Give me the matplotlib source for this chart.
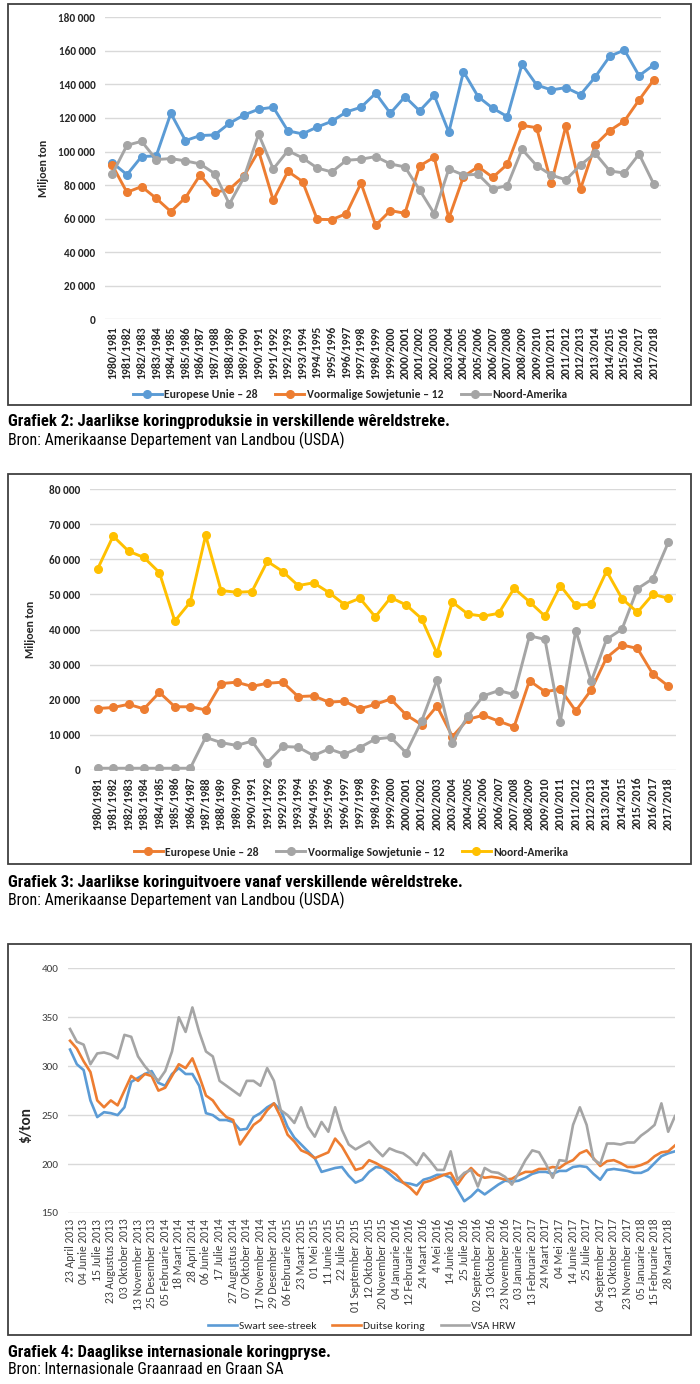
import numpy as np
import matplotlib
matplotlib.use('Agg')
import matplotlib.pyplot as plt
from matplotlib.patches import Rectangle
from matplotlib import font_manager

# original uses Calibri for the charts and a condensed face for captions
names = {f.name for f in font_manager.fontManager.ttflist}


def pick(*cands):
    for c in cands:
        if c in names:
            return c
    return 'DejaVu Sans'


body = pick('Carlito', 'Liberation Sans Narrow', 'Lato')
cond = pick('Roboto Condensed', 'Liberation Sans Narrow', 'Open Sans Condensed', 'Lato')
plt.rcParams['font.family'] = [body, 'DejaVu Sans']

# ---- data: Grafiek 2 (produksie) ----
seasons = [f"{y}/{y + 1}" for y in range(1980, 2018)]
eu_prod = [93400, 86200, 97000, 97400, 122800, 106500, 109500, 109900, 116800, 121800,
           125200, 126400, 112300, 110500, 114600, 118000, 123600, 126400, 134700, 122800,
           132700, 124200, 133500, 111500, 147600, 132700, 125800, 120800, 152000, 139700,
           136700, 138100, 133900, 144400, 156800, 160500, 145200, 151600]
fsu_prod = [91800, 75700, 79100, 72100, 64200, 72500, 86000, 75700, 77500, 85400,
            100300, 70900, 88200, 82100, 59600, 59400, 63000, 81100, 56000, 64800,
            63200, 91400, 96600, 60200, 85000, 91000, 84600, 92400, 115600, 114200,
            81100, 115200, 77700, 103900, 112500, 118200, 130700, 142700]
na_prod = [86600, 103700, 106100, 95200, 95800, 94400, 92600, 86800, 68700, 84600,
           110300, 89600, 100500, 96200, 90200, 87800, 94800, 95400, 97000, 92600,
           90800, 77100, 63000, 89600, 86000, 86400, 77700, 79700, 101300, 91600,
           86000, 83100, 92000, 98900, 88400, 87200, 98500, 80700]

# ---- data: Grafiek 3 (uitvoere) ----
eu_exp = [17500, 17800, 18700, 17400, 22100, 18000, 18000, 17100, 24600, 25000,
          23800, 24700, 25000, 20900, 21100, 19300, 19600, 17400, 18700, 20200,
          15700, 12900, 18200, 9500, 14400, 15600, 13900, 12300, 25400, 22300,
          23000, 16800, 22800, 32000, 35600, 34600, 27300, 23900]
fsu_exp = [500, 500, 500, 500, 500, 500, 500, 9300, 7800, 7000,
           8200, 2100, 6700, 6500, 4100, 6000, 4500, 6400, 8800, 9300,
           4900, 13900, 25600, 7800, 15400, 21100, 22600, 21500, 38200, 37200,
           13800, 39700, 25200, 37200, 40100, 51600, 54500, 64800]
na_exp = [57300, 66600, 62300, 60500, 56200, 42400, 47800, 66800, 51100, 50600,
          50800, 59400, 56500, 52500, 53300, 50500, 47100, 48900, 43600, 49100,
          47000, 43100, 33200, 47800, 44400, 43800, 44600, 51700, 47900, 43800,
          52500, 46900, 47200, 56600, 48800, 44900, 50000, 48900]

# ---- data: Grafiek 4 (pryse, $/ton), two readings per label step ----
dates = ["23 April 2013", "04 Junie 2013", "15 Julie 2013", "23 Augustus 2013", "03 Oktober 2013",
         "13 November 2013", "25 Desember 2013", "05 Februarie 2014", "18 Maart 2014", "28 April 2014",
         "06 Junie 2014", "17 Julie 2014", "27 Augustus 2014", "07 Oktober 2014", "17 November 2014",
         "29 Desember 2014", "06 Februarie 2015", "23 Maart 2015", "01 Mei 2015", "11 Junie 2015",
         "22 Julie 2015", "01 September 2015", "12 Oktober 2015", "20 November 2015", "04 Januarie 2016",
         "12 Februarie 2016", "24 Maart 2016", "4 Mei 2016", "14 Junie 2016", "25 Julie 2016",
         "02 September 2016", "13 Oktober 2016", "23 November 2016", "03 Januarie 2017", "13 Februarie 2017",
         "24 Maart 2017", "04 Mei 2017", "14 Junie 2017", "25 Julie 2017", "04 September 2017",
         "13 Oktober 2017", "23 November 2017", "05 Januarie 2018", "15 Februarie 2018", "28 Maart 2018"]
black_sea = [317, 302, 296, 265, 248, 253, 252, 250, 258, 284,
             288, 292, 295, 283, 280, 292, 298, 292, 292, 280,
             252, 250, 245, 245, 243, 235, 236, 248, 252, 258,
             262, 255, 238, 227, 220, 213, 206, 192, 194, 196,
             197, 188, 181, 184, 192, 197, 196, 190, 184, 181,
             180, 178, 184, 186, 189, 189, 186, 174, 162, 167,
             174, 169, 174, 179, 183, 182, 183, 186, 190, 192,
             192, 190, 193, 193, 197, 198, 197, 190, 184, 194,
             195, 194, 193, 191, 191, 194, 201, 208, 211, 213]
german = [326, 318, 305, 294, 265, 258, 265, 260, 275, 290,
          285, 292, 290, 275, 278, 290, 302, 298, 308, 290,
          270, 265, 255, 248, 245, 220, 230, 240, 245, 255,
          262, 248, 230, 223, 214, 211, 206, 209, 212, 226,
          218, 206, 194, 196, 204, 201, 197, 194, 189, 181,
          176, 169, 181, 183, 186, 189, 191, 179, 189, 196,
          189, 186, 187, 186, 184, 185, 189, 192, 192, 195,
          195, 197, 196, 201, 204, 211, 214, 206, 198, 203,
          204, 201, 197, 197, 199, 202, 208, 212, 213, 219]
usa_hrw = [338, 325, 322, 302, 313, 314, 312, 308, 332, 330,
           310, 300, 292, 285, 295, 315, 350, 335, 360, 335,
           315, 310, 285, 280, 275, 270, 285, 285, 280, 298,
           285, 255, 250, 242, 258, 238, 228, 243, 233, 258,
           235, 220, 215, 219, 223, 215, 208, 216, 213, 211,
           206, 199, 211, 203, 194, 194, 213, 184, 191, 194,
           177, 196, 192, 191, 187, 179, 191, 204, 214, 212,
           200, 186, 204, 203, 240, 258, 240, 205, 200, 221,
           221, 220, 222, 222, 229, 234, 240, 262, 233, 249]

BLUE, ORANGE, GREY, YELLOW = '#5B9BD5', '#ED7D31', '#A5A5A5', '#FFC000'

W, H = 700, 1384
fig = plt.figure(figsize=(7, 13.84), dpi=100)


def axes_px(x0, y0, x1, y1):
    return fig.add_axes([x0 / W, 1 - y1 / H, (x1 - x0) / W, (y1 - y0) / H])


def box_px(x0, y0, x1, y1):
    fig.add_artist(Rectangle((x0 / W, 1 - y1 / H), (x1 - x0) / W, (y1 - y0) / H,
                             transform=fig.transFigure, fill=False, edgecolor='#404040', lw=1.3))


def base_style(ax):
    for s in ax.spines.values():
        s.set_visible(False)
    ax.yaxis.grid(True, color='#D9D9D9', lw=1.0)
    ax.set_axisbelow(True)
    ax.tick_params(length=0)


def space_fmt(v, pos=None):
    return f"{int(v):,}".replace(',', ' ')


def caption(y_title, y_src, title, src):
    fig.text(8 / W, 1 - y_title / H, title, fontsize=12, fontweight='bold', va='center', ha='left',
             family=[cond, 'DejaVu Sans'])
    fig.text(8 / W, 1 - y_src / H, src, fontsize=11.5, va='center', ha='left',
             family=[cond, 'DejaVu Sans'])


def season_chart(ax, series, ymax, step, lab_x):
    x = np.arange(len(seasons))
    for vals, col, lab in series:
        ax.plot(x, vals, color=col, lw=2.1, marker='o', ms=5.5, label=lab)
    base_style(ax)
    ax.set_xlim(-0.5, len(seasons) - 0.5)
    ax.set_ylim(0, ymax)
    ax.set_yticks(np.arange(0, ymax + 1, step))
    ax.yaxis.set_major_formatter(plt.FuncFormatter(space_fmt))
    ax.set_xticks(x)
    ax.set_xticklabels(seasons, rotation=90, fontsize=8.4, fontweight='bold', color='#262626')
    for t in ax.get_yticklabels():
        t.set_fontweight('bold')
        t.set_fontsize(8)
        t.set_color('#262626')
    ax.tick_params(axis='y', pad=7)
    ax.tick_params(axis='x', pad=5)
    ax.set_ylabel('Miljoen ton', fontsize=8.5, fontweight='bold', color='#262626')
    ax.yaxis.set_label_coords(lab_x, 0.5)


def legend(ax, cx, cy, bold, size, gap):
    prop = dict(weight='bold' if bold else 'normal', size=size)
    ax.legend(loc='center', bbox_to_anchor=(cx / W, 1 - cy / H), bbox_transform=fig.transFigure,
              ncol=3, frameon=False, prop=prop, handlelength=2.5, columnspacing=gap,
              handletextpad=0.2, labelcolor='#262626')


# ---------- Grafiek 2 ----------
box_px(8, 4, 691, 405)
ax1 = axes_px(105, 17.3, 661, 319.3)
season_chart(ax1, [(eu_prod, BLUE, 'Europese Unie – 28'),
                   (fsu_prod, ORANGE, 'Voormalige Sowjetunie – 12'),
                   (na_prod, GREY, 'Noord-Amerika')], 180000, 20000, -0.101)
legend(ax1, 350, 395, True, 8.4, 1.5)
caption(421, 440, "Grafiek 2: Jaarlikse koringproduksie in verskillende wêreldstreke.",
        "Bron: Amerikaanse Departement van Landbou (USDA)")

# ---------- Grafiek 3 ----------
box_px(8, 474, 691, 864)
ax2 = axes_px(90, 489, 676, 770)
season_chart(ax2, [(eu_exp, ORANGE, 'Europese Unie – 28'),
                   (fsu_exp, GREY, 'Voormalige Sowjetunie – 12'),
                   (na_exp, YELLOW, 'Noord-Amerika')], 80000, 10000, -0.092)
legend(ax2, 351, 852, True, 8.4, 1.5)
caption(882, 900, "Grafiek 3: Jaarlikse koringuitvoere vanaf verskillende wêreldstreke.",
        "Bron: Amerikaanse Departement van Landbou (USDA)")

# ---------- Grafiek 4 ----------
box_px(8, 944, 691, 1335)
ax3 = axes_px(68, 968.3, 675, 1213)
xs = np.arange(len(black_sea)) / 2.0
ax3.plot(xs, black_sea, color=BLUE, lw=1.9, label='Swart see-streek')
ax3.plot(xs, german, color=ORANGE, lw=1.9, label='Duitse koring')
ax3.plot(xs, usa_hrw, color=GREY, lw=1.9, label='VSA HRW')
base_style(ax3)
ax3.set_xlim(-0.15, 44.5)
ax3.set_ylim(150, 400)
ax3.set_yticks(np.arange(150, 401, 50))
ax3.set_xticks(np.arange(len(dates)))
ax3.set_xticklabels(dates, rotation=90, fontsize=8.4, color='#404040')
for t in ax3.get_yticklabels():
    t.set_fontsize(8)
    t.set_color('#404040')
ax3.tick_params(axis='y', pad=7)
ax3.tick_params(axis='x', pad=4)
ax3.set_ylabel('$/ton', fontsize=11, fontweight='bold', color='#262626')
ax3.yaxis.set_label_coords(-0.058, 0.36)
legend(ax3, 362, 1326, False, 8.2, 1.4)
caption(1352, 1370, "Grafiek 4: Daaglikse internasionale koringpryse.",
        "Bron: Internasionale Graanraad en Graan SA")

fig.savefig('out.png', dpi=100)
